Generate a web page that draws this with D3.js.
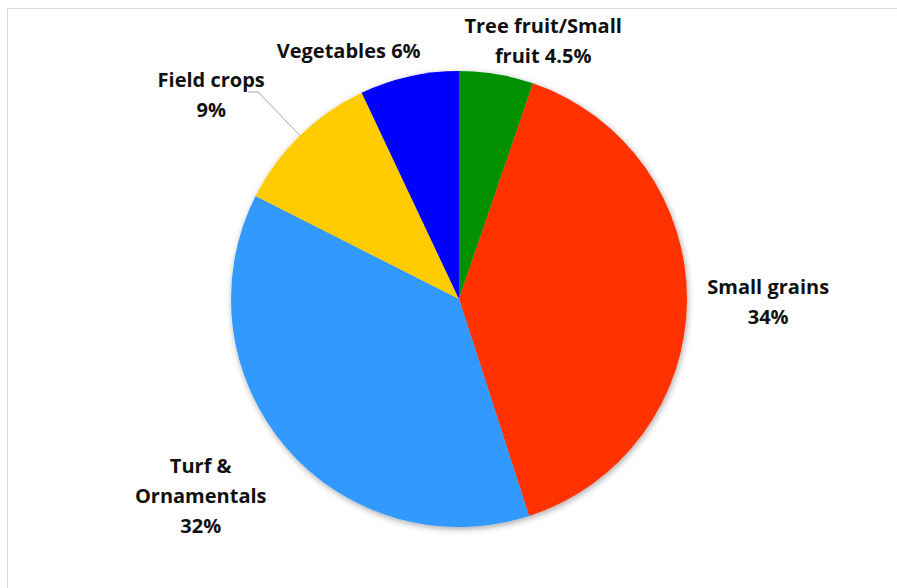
<!DOCTYPE html>
<html>
<head>
<meta charset="utf-8">
<script src="https://cdn.jsdelivr.net/npm/d3@7"></script>
<style>
  html, body { margin: 0; padding: 0; background: #fff; }
  svg { display: block; }
</style>
</head>
<body>
<svg id="chart" width="897" height="588"></svg>
<script>
// Share of acreage by crop group
const categories = ["Tree fruit/Small fruit", "Small grains", "Turf & Ornamentals", "Field crops", "Vegetables"];
const values = [4.5, 34, 32, 9, 6];
// How each label is broken onto lines (the percentage is appended from values)
const labelLines = [["Tree fruit/Small", "fruit"], ["Small grains"], ["Turf &", "Ornamentals"], ["Field crops"], ["Vegetables"]];
const pctOnOwnLine = [false, true, true, true, false];
const colors = ["#009000", "#ff3300", "#3399ff", "#ffcc00", "#0000ff"];
// Label nudges away from the default outside position
const labelNudge = [[41, 1], [47, 1], [-59, 27], [-65, -16], [-53, 8]];
const leaderFor = [false, false, false, true, false];

const svg = d3.select("#chart");
const cx = 459, cy = 299, r = 228;
const labelR = r * 1.15;
const lineGap = 30;

// chart area frame
svg.append("rect")
  .attr("x", 7.5).attr("y", 8.5)
  .attr("width", 1000).attr("height", 1000)
  .attr("fill", "none").attr("stroke", "#d9d9d9").attr("stroke-width", 1);

const defs = svg.append("defs");
const f = defs.append("filter").attr("id", "shadow")
  .attr("x", "-10%").attr("y", "-10%").attr("width", "120%").attr("height", "120%");
f.append("feDropShadow")
  .attr("dx", 1).attr("dy", 2).attr("stdDeviation", 3)
  .attr("flood-color", "#000").attr("flood-opacity", 0.35);

const data = categories.map((c, i) => ({ name: c, value: values[i], i }));
const pie = d3.pie().value(d => d.value).sort(null);
const arcs = pie(data);
const arc = d3.arc().innerRadius(0).outerRadius(r);

const g = svg.append("g").attr("transform", `translate(${cx},${cy})`);
g.append("g").attr("filter", "url(#shadow)")
  .selectAll("path").data(arcs).join("path")
  .attr("d", arc)
  .attr("fill", d => colors[d.data.i]);

const polar = (a, rad) => [rad * Math.sin(a), -rad * Math.cos(a)];

arcs.forEach(d => {
  const i = d.data.i;
  const mid = (d.startAngle + d.endAngle) / 2;
  const base = polar(mid, labelR);
  const x = base[0] + labelNudge[i][0];
  const yc = base[1] + labelNudge[i][1];
  const lines = labelLines[i].slice();
  const pct = d.data.value + "%";
  if (pctOnOwnLine[i]) lines.push(pct);
  else lines[lines.length - 1] += " " + pct;
  const firstBase = yc - (lines.length - 1) * lineGap / 2 + 7;

  const t = g.append("text")
    .attr("text-anchor", "middle")
    .attr("font-family", "'Open Sans', sans-serif")
    .attr("font-weight", 700)
    .attr("font-size", 20)
    .attr("fill", "#111");
  lines.forEach((ln, k) => {
    t.append("tspan").attr("x", x).attr("y", firstBase + k * lineGap).text(ln);
  });

  if (leaderFor[i]) {
    const edge = polar(mid, r);
    const elbow = [x + 47, firstBase + 5];
    g.append("polyline")
      .attr("points", [edge, elbow, [elbow[0] - 10, elbow[1]]].map(p => p.join(",")).join(" "))
      .attr("fill", "none").attr("stroke", "#a6a6a6").attr("stroke-width", 1);
  }
});
</script>
</body>
</html>
